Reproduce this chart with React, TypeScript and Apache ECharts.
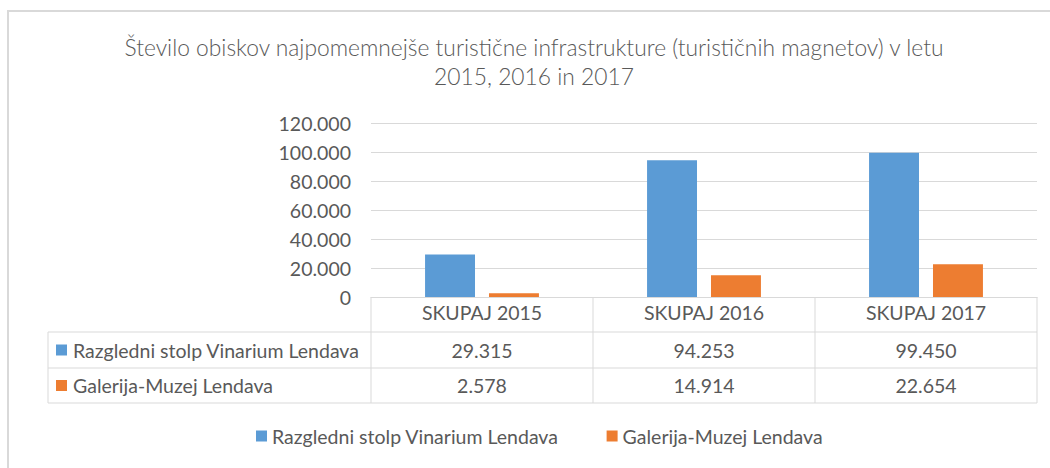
import React, { useEffect, useRef } from "react";
import * as echarts from "echarts";

const categories = ["SKUPAJ 2015", "SKUPAJ 2016", "SKUPAJ 2017"];
const seriesNames = ["Razgledni stolp Vinarium Lendava", "Galerija-Muzej Lendava"];
const vinariumValues = [29315, 94253, 99450];
const galerijaValues = [2578, 14914, 22654];
const colors = ["#5B9BD5", "#ED7D31"];
const titleLines = [
  "Število obiskov najpomemnejše turistične infrastrukture (turističnih magnetov) v letu",
  "2015, 2016 in 2017",
];

const FONT = "Lato, 'Open Sans', sans-serif";
const TEXT = "#595959";
const LINE = "#d9d9d9";
const FS = 19.5;

function fmt(n: number): string {
  const s = Math.round(n).toString();
  return s.replace(/\B(?=(\d{3})+(?!\d))/g, ".");
}

export default function App() {
  const ref = useRef<HTMLDivElement>(null);
  useEffect(() => {
    if (!ref.current) return;
    const chart = echarts.init(ref.current, null, { renderer: "svg" });

    const W = 1050;
    const gridLeft = 371;
    const gridRight = 1037;
    const gridTop = 123;
    const axisY = 297;
    const tableLeft = 48;
    const rowTops = [297, 332, 368, 403];
    const colW = (gridRight - gridLeft) / categories.length;
    const rows = [vinariumValues, galerijaValues];

    const graphics: any[] = [];
    graphics.push({
      type: "rect",
      shape: { x: 8, y: 11, width: 1100, height: 600 },
      style: { fill: "none", stroke: LINE, lineWidth: 2 },
      silent: true,
    });
    for (let r = 1; r < rowTops.length; r++) {
      graphics.push({
        type: "line",
        shape: { x1: tableLeft, y1: rowTops[r], x2: gridRight, y2: rowTops[r] },
        style: { stroke: LINE, lineWidth: 1 },
        silent: true,
      });
    }
    for (let c = 0; c <= categories.length; c++) {
      const x = gridLeft + c * colW;
      graphics.push({
        type: "line",
        shape: { x1: x, y1: axisY, x2: x, y2: rowTops[3] },
        style: { stroke: LINE, lineWidth: 1 },
        silent: true,
      });
    }
    graphics.push({
      type: "line",
      shape: { x1: tableLeft, y1: rowTops[1], x2: tableLeft, y2: rowTops[3] },
      style: { stroke: LINE, lineWidth: 1 },
      silent: true,
    });
    rows.forEach((vals, r) => {
      const cy = (rowTops[r + 1] + rowTops[r + 2]) / 2;
      graphics.push({
        type: "rect",
        shape: { x: 56, y: cy - 5.5, width: 11, height: 11 },
        style: { fill: colors[r] },
        silent: true,
      });
      graphics.push({
        type: "text",
        x: 73,
        y: cy,
        style: {
          text: seriesNames[r],
          fill: TEXT,
          font: `${FS}px ${FONT}`,
          textVerticalAlign: "middle",
          textAlign: "left",
        },
        silent: true,
      });
      vals.forEach((v, c) => {
        graphics.push({
          type: "text",
          x: gridLeft + (c + 0.5) * colW,
          y: cy,
          style: {
            text: fmt(v),
            fill: TEXT,
            font: `${FS}px ${FONT}`,
            textVerticalAlign: "middle",
            textAlign: "center",
          },
          silent: true,
        });
      });
    });

    chart.setOption({
      animation: false,
      title: {
        text: titleLines.join("\n"),
        left: 529,
        textAlign: "center",
        top: 27,
        textStyle: {
          fontFamily: FONT,
          fontWeight: 300,
          fontSize: 22.8,
          color: TEXT,
          lineHeight: 29,
        },
      },
      legend: {
        data: seriesNames,
        top: 426,
        left: 256,
        itemWidth: 11,
        itemHeight: 11,
        itemGap: 48,
        icon: "rect",
        padding: 0,
        textStyle: { fontFamily: FONT, fontSize: FS, color: TEXT },
      },
      grid: {
        left: gridLeft,
        right: W - gridRight,
        top: gridTop,
        bottom: 468 - axisY,
        containLabel: false,
      },
      xAxis: {
        type: "category",
        data: categories,
        axisLine: { lineStyle: { color: LINE } },
        axisTick: { show: false },
        axisLabel: {
          color: TEXT,
          fontFamily: FONT,
          fontSize: FS,
          margin: 5,
        },
      },
      yAxis: {
        type: "value",
        min: 0,
        max: 120000,
        interval: 20000,
        axisLine: { show: false },
        axisTick: { show: false },
        splitLine: { lineStyle: { color: LINE } },
        axisLabel: {
          color: TEXT,
          fontFamily: FONT,
          fontSize: FS,
          margin: 20,
          formatter: (v: number) => fmt(v),
        },
      },
      series: [
        {
          name: seriesNames[0],
          type: "bar",
          data: vinariumValues,
          barWidth: "22.5%",
          barGap: "28%",
          itemStyle: { color: colors[0] },
        },
        {
          name: seriesNames[1],
          type: "bar",
          data: galerijaValues,
          barWidth: "22.5%",
          barGap: "28%",
          itemStyle: { color: colors[1] },
        },
      ],
      graphic: graphics,
    });

    return () => chart.dispose();
  }, []);

  return (
    <div
      ref={ref}
      style={{ position: "absolute", left: 0, top: 0, width: 1050, height: 468, background: "#fff" }}
    />
  );
}
